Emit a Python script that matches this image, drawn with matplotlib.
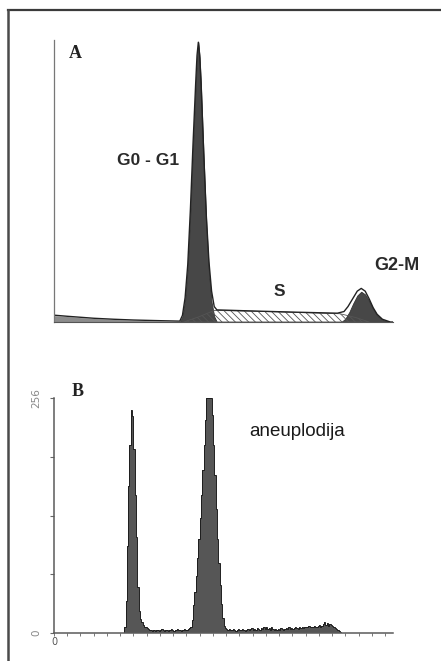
import numpy as np
import matplotlib.pyplot as plt
from matplotlib.lines import Line2D

# ---- panel A: fitted cell-cycle histogram (channel, count) ----
debris_ch = [0, 10, 20, 30, 45, 60, 80, 95]
debris_ct = [5.8, 5.0, 4.0, 3.2, 2.3, 1.6, 1.0, 0.5]

g1_ch = [95, 97, 99, 101, 103, 105, 107, 108, 109, 110, 111, 113, 115, 117, 119, 121, 123]
g1_ct = [0, 5, 20, 50, 100, 160, 215, 240, 254, 240, 215, 150, 90, 45, 18, 5, 0]

s_ch = [98, 110, 121, 150, 180, 216, 228, 238]
s_ct = [0, 5, 10.5, 9.8, 8.8, 7.5, 4, 0]

g2_ch = [217, 220, 223, 226, 229, 232, 235, 238, 241, 244, 248, 254]
g2_ct = [0, 3, 9, 17, 24, 27.5, 25, 19, 12, 6, 2, 0]

total_ch = [0, 10, 20, 30, 45, 60, 80, 95, 97, 99, 101, 103, 105, 107, 108, 109, 110,
            111, 113, 115, 117, 119, 121, 123, 150, 180, 214, 219, 222, 226, 229, 232,
            235, 238, 241, 244, 248, 254, 256]
total_ct = [6.2, 5.2, 4.3, 3.4, 2.5, 1.8, 1.2, 0.8, 6, 22, 52, 102, 162, 217, 242, 254,
            242, 218, 155, 97, 55, 28, 14, 11, 10, 9, 8, 9.5, 14, 22, 28, 30.5,
            28, 21, 13, 7, 2.5, 0, 0]

# ---- panel B: raw DNA histogram, one count per channel from channel 50 ----
b_start = 50
b_counts = [
    0, 0, 0, 6, 35, 95, 160, 205, 243, 236,              # 50-59
    200, 150, 105, 50, 24, 15, 12, 9, 7, 6,              # 60-69
    5, 4, 3, 3, 2, 3, 2, 3, 3, 2,                        # 70-79
    3, 4, 3, 2, 3, 3, 2, 3, 4, 3,                        # 80-89
    2, 3, 3, 4, 3, 3, 2, 3, 4, 3,                        # 90-99
    3, 4, 5, 6, 14, 30, 45, 62, 82, 102,                 # 100-109
    125, 150, 178, 205, 232, 256, 256, 256, 256, 238,    # 110-119
    205, 172, 135, 102, 76, 52, 32, 16, 8, 5,            # 120-129
    4, 3, 4, 3, 3, 4, 3, 2, 3, 4,                        # 130-139
    3, 3, 4, 3, 2, 3, 4, 3, 4, 5,                        # 140-149
    3, 4, 3, 5, 4, 3, 5, 4, 6, 4,                        # 150-159
    7, 4, 5, 3, 6, 4, 3, 4, 3, 4,                        # 160-169
    3, 5, 4, 3, 4, 5, 4, 6, 4, 5,                        # 170-179
    4, 5, 6, 5, 4, 6, 5, 6, 5, 7,                        # 180-189
    6, 7, 8, 6, 7, 6, 8, 7, 6, 8,                        # 190-199
    9, 7, 8, 10, 12, 9, 11, 8, 10, 9,                    # 200-209
    8, 7, 5, 4, 3, 2, 1, 0,                              # 210-217
]
b_yticks = [0, 64, 128, 192, 256]
b_xticks = list(range(0, 257, 10))

W, H = 441, 661
fig = plt.figure(figsize=(W / 100, H / 100), dpi=100)

# outer frame (top and left rules)
fig.add_artist(Line2D([8 / W, 1], [1 - 10 / H] * 2, transform=fig.transFigure,
                      color="#3a3a3a", lw=1.6))
fig.add_artist(Line2D([8 / W] * 2, [0, 1 - 10 / H], transform=fig.transFigure,
                      color="#4a4a4a", lw=1.8))

# ---------------- panel A ----------------
axA = fig.add_axes([54 / W, 1 - 322 / H, 339 / W, 282 / H])
axA.set_xlim(0, 256)
axA.set_ylim(0, 256)
axA.fill_between(debris_ch, debris_ct, color="#8c8c8c", lw=0)
axA.fill_between(g1_ch, g1_ct, color="#474747", lw=0.6, edgecolor="#333333")
axA.fill_between(g2_ch, g2_ct, color="#474747", lw=0.6, edgecolor="#333333")
plt.rcParams["hatch.linewidth"] = 0.6
axA.fill_between(s_ch, s_ct, facecolor="none", edgecolor="#555555",
                 hatch="\\\\\\\\\\", lw=0.6)
axA.plot(total_ch, total_ct, color="#222222", lw=1.0)
for side in ["top", "right"]:
    axA.spines[side].set_visible(False)
axA.spines["left"].set_color("#777777")
axA.spines["left"].set_linewidth(0.9)
axA.spines["bottom"].set_color("#555555")
axA.spines["bottom"].set_linewidth(0.8)
axA.set_xticks([])
axA.set_yticks([])

# ---------------- panel B ----------------
axB = fig.add_axes([54 / W, 1 - 633 / H, 339 / W, 235 / H])
axB.set_xlim(0, 256)
axB.set_ylim(0, 256)
edges = np.arange(b_start, b_start + len(b_counts) + 1)
axB.stairs(b_counts, edges, fill=True, color="#565656")
axB.stairs(b_counts, edges, color="#1e1e1e", lw=0.7)
for side in ["top", "right"]:
    axB.spines[side].set_visible(False)
for side in ["left", "bottom"]:
    axB.spines[side].set_color("#5a5a5a")
    axB.spines[side].set_linewidth(1.1)
axB.set_yticks(b_yticks)
axB.set_yticklabels(["0", "", "", "", "256"], rotation=90, va="center",
                    fontsize=7.5, color="#888888", family="DejaVu Sans")
axB.tick_params(axis="y", length=3, width=0.8, color="#666666", pad=6)
axB.set_xticks(b_xticks)
axB.set_xticklabels(["0"] + [""] * (len(b_xticks) - 1), fontsize=7,
                    color="#555555")
axB.tick_params(axis="x", length=2, width=0.7, color="#777777", pad=1)

# ---------------- labels ----------------
def px_text(x, y, s, **kw):
    fig.text(x / W, 1 - y / H, s, ha="center", va="center", **kw)

px_text(75, 53, "A", fontsize=13, weight="bold", family="Liberation Serif", color="#222222")
px_text(148, 161, "G0 - G1", fontsize=12.5, weight="bold", family="Liberation Sans", color="#2a2a2a")
px_text(279, 291, "S", fontsize=12.5, weight="bold", family="Liberation Sans", color="#2a2a2a")
px_text(397, 266, "G2-M", fontsize=13, weight="bold", family="Liberation Sans", color="#2a2a2a")
px_text(78, 391, "B", fontsize=13, weight="bold", family="Liberation Serif", color="#222222")
px_text(297, 432, "aneuplodija", fontsize=13.5, family="Liberation Sans", color="#1a1a1a")

fig.savefig("out.png", dpi=100, facecolor="white")
